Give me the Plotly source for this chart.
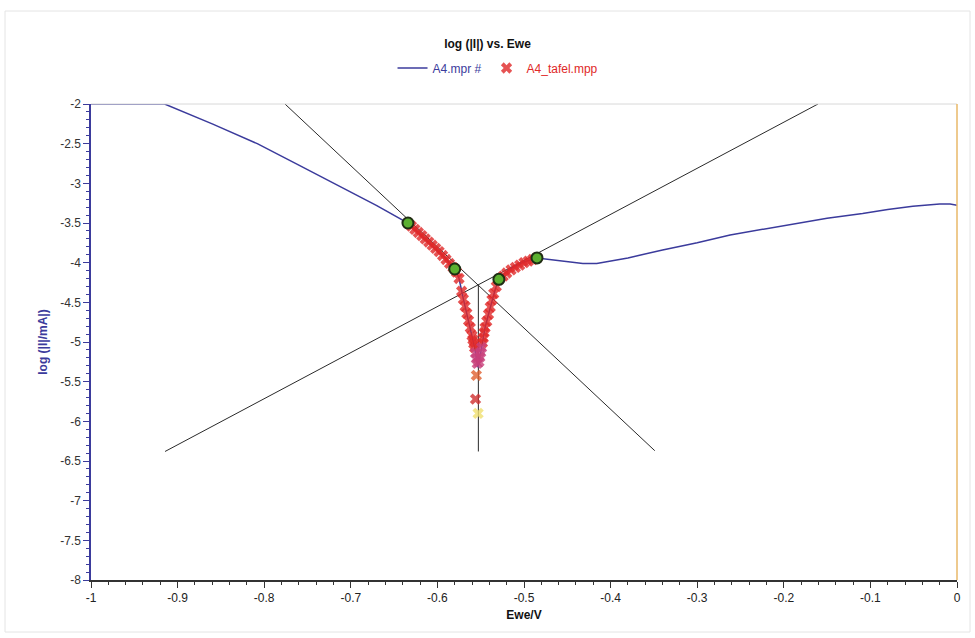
import plotly.graph_objects as go

# ---- data ----
# A4.mpr  (log|I| vs Ewe)
ewe = [-1.0, -0.915, -0.86, -0.808, -0.76, -0.7125, -0.67, -0.634,
       -0.61, -0.59, -0.58, -0.575, -0.570, -0.566, -0.562, -0.557, -0.554, -0.553,
       -0.551, -0.549, -0.545, -0.541, -0.537, -0.533, -0.529, -0.522, -0.515, -0.50,
       -0.485, -0.47, -0.45, -0.432, -0.416, -0.38, -0.34, -0.30, -0.262, -0.22,
       -0.185, -0.15, -0.109, -0.08, -0.051, -0.02, -0.008, 0.0]
log_i = [-2.0, -2.0, -2.25, -2.50, -2.77, -3.04, -3.28, -3.50,
         -3.74, -3.95, -4.08, -4.20, -4.46, -4.64, -4.82, -5.07, -5.27, -5.32,
         -5.20, -5.07, -4.82, -4.65, -4.47, -4.33, -4.21, -4.13, -4.07, -3.99,
         -3.94, -3.96, -3.99, -4.01, -4.01, -3.94, -3.84, -3.75, -3.65, -3.57,
         -3.50, -3.44, -3.38, -3.33, -3.29, -3.26, -3.26, -3.275]

# A4_tafel.mpp (fitted region points)
tafel_x = [-0.634, -0.630, -0.626, -0.622, -0.618, -0.614, -0.610, -0.606, -0.602,
           -0.598, -0.594, -0.590, -0.586, -0.582, -0.578, -0.575, -0.572, -0.570,
           -0.568, -0.566, -0.564, -0.562, -0.560, -0.559, -0.558, -0.557, -0.556,
           -0.555, -0.554,
           -0.485, -0.490, -0.495, -0.500, -0.505, -0.510, -0.515, -0.520, -0.524,
           -0.529, -0.532, -0.535, -0.537, -0.539, -0.541, -0.543, -0.545, -0.546,
           -0.547, -0.548, -0.549, -0.550, -0.551, -0.552,
           -0.555, -0.556, -0.553]
tafel_y = [-3.50, -3.54, -3.58, -3.62, -3.66, -3.70, -3.74, -3.78, -3.82,
           -3.86, -3.91, -3.96, -4.01, -4.06, -4.12, -4.20, -4.36, -4.46,
           -4.55, -4.64, -4.73, -4.82, -4.92, -4.97, -5.02, -5.07, -5.14,
           -5.21, -5.27,
           -3.94, -3.96, -3.98, -4.00, -4.03, -4.06, -4.09, -4.13, -4.17,
           -4.21, -4.30, -4.39, -4.47, -4.56, -4.65, -4.74, -4.82, -4.88,
           -4.95, -5.01, -5.07, -5.13, -5.19, -5.25,
           -5.42, -5.72, -5.90]

# Tafel fit limits (green points)
fit_x = [-0.634, -0.580, -0.529, -0.485]
fit_y = [-3.50, -4.08, -4.21, -3.94]

# Tafel lines
cath_x = [-0.776, -0.349]
cath_y = [-2.0, -6.37]
anod_x = [-0.9145, -0.1605]
anod_y = [-6.38, -2.0]
ecorr_x = [-0.5527, -0.5527]
ecorr_y = [-4.28, -6.38]

x_ticks = [-1, -0.9, -0.8, -0.7, -0.6, -0.5, -0.4, -0.3, -0.2, -0.1, 0]
x_labels = ["-1", "-0.9", "-0.8", "-0.7", "-0.6", "-0.5", "-0.4", "-0.3", "-0.2", "-0.1", "0"]
y_ticks = [-2, -2.5, -3, -3.5, -4, -4.5, -5, -5.5, -6, -6.5, -7, -7.5, -8]
y_labels = ["-2", "-2.5", "-3", "-3.5", "-4", "-4.5", "-5", "-5.5", "-6", "-6.5", "-7", "-7.5", "-8"]

BLUE = "#3b3b9c"
RED = "#e02828"
FONT = "Liberation Sans, Arial, sans-serif"

n_t = len(tafel_x)
tafel_colors = [RED] * n_t
for i in (26, 27, 28, 49, 50, 51, 52):
    tafel_colors[i] = "#c8407a"
tafel_colors[-3] = "#e06030"
tafel_colors[-2] = "#d03030"
tafel_colors[-1] = "#f0e070"

fig = go.Figure()

for lx, ly in ((cath_x, cath_y), (anod_x, anod_y), (ecorr_x, ecorr_y)):
    fig.add_trace(go.Scatter(x=lx, y=ly, mode="lines",
                             line=dict(color="#2a2a2a", width=1),
                             showlegend=False, hoverinfo="skip"))

fig.add_trace(go.Scatter(x=ewe, y=log_i, mode="lines",
                         line=dict(color=BLUE, width=1.5),
                         name="<span style='color:%s'>A4.mpr #</span>" % BLUE))

fig.add_trace(go.Scatter(x=tafel_x, y=tafel_y, mode="markers",
                         marker=dict(symbol="x", size=10, color=tafel_colors,
                                     opacity=0.8, line=dict(width=0)),
                         name="<span style='color:%s'>A4_tafel.mpp</span>" % RED))

fig.add_trace(go.Scatter(x=fit_x, y=fit_y, mode="markers",
                         marker=dict(symbol="circle", size=11, color="#5cb030",
                                     line=dict(color="#1e2e14", width=2)),
                         showlegend=False))

fig.update_layout(
    width=975, height=638,
    margin=dict(l=91, r=18, t=104, b=58),
    paper_bgcolor="white", plot_bgcolor="white",
    font=dict(family=FONT, size=11, color="#333333"),
    title=dict(text="<b>log (|I|) vs. Ewe</b>", x=0.5, xanchor="center",
               y=1 - 44 / 638, yanchor="middle",
               font=dict(family=FONT, size=12, color="#111111")),
    legend=dict(orientation="h", x=0.47, xanchor="center",
                y=1 + 36 / 476, yanchor="middle",
                font=dict(family=FONT, size=12), bgcolor="rgba(0,0,0,0)",
                itemwidth=30, tracegroupgap=0),
    showlegend=True,
    shapes=[
        dict(type="rect", xref="paper", yref="paper",
             x0=(5 - 91) / 866, x1=(970 - 91) / 866,
             y0=(580 - 632) / 476, y1=(580 - 11) / 476,
             line=dict(color="#e4e4e4", width=1), layer="below"),
        dict(type="line", xref="paper", yref="paper", x0=0, x1=1, y0=1, y1=1,
             line=dict(color="#d8d8d8", width=1)),
        dict(type="line", xref="paper", yref="paper", x0=1, x1=1, y0=0, y1=1,
             line=dict(color="#e8b868", width=1.5)),
    ],
)

fig.update_xaxes(
    range=[-1, 0], tickmode="array", tickvals=x_ticks, ticktext=x_labels,
    showgrid=False, zeroline=False,
    showline=True, linecolor="#333333", linewidth=1.5,
    ticks="outside", ticklen=6, tickcolor="#333333",
    minor=dict(dtick=0.02, ticks="outside", ticklen=3, tickcolor="#333333", showgrid=False),
    tickfont=dict(family=FONT, size=12, color="#222222"),
    title=dict(text="<b>Ewe/V</b>", font=dict(family=FONT, size=12, color="#111111"), standoff=6),
)
fig.update_yaxes(
    range=[-8, -2], tickmode="array", tickvals=y_ticks, ticktext=y_labels,
    showgrid=False, zeroline=False,
    showline=True, linecolor=BLUE, linewidth=1.5,
    ticks="outside", ticklen=6, tickcolor=BLUE,
    minor=dict(dtick=0.1, ticks="outside", ticklen=3, tickcolor=BLUE, showgrid=False),
    tickfont=dict(family=FONT, size=12, color="#333333"),
    title=dict(text="<b>log (|I|/mA|)</b>", font=dict(family=FONT, size=12, color=BLUE), standoff=10),
)

fig.write_html("out.html")
